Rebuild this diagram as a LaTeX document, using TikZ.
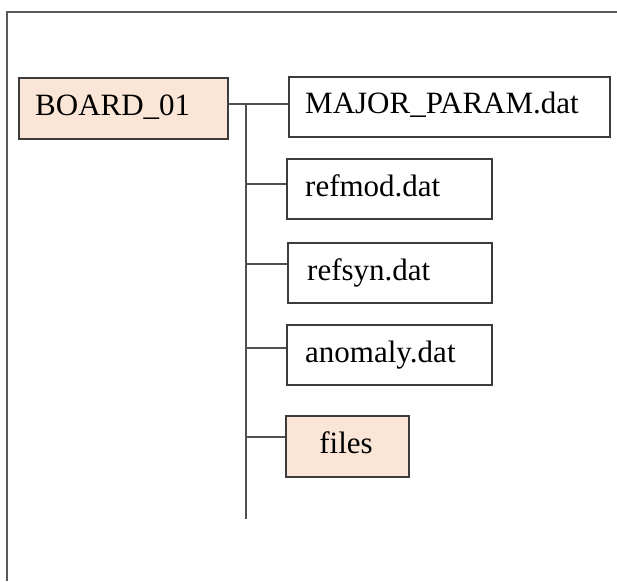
\documentclass[tikz,border=0pt]{standalone}
\usepackage{fontspec}
\setmainfont{Liberation Serif}
\definecolor{peach}{HTML}{FBE5D6}
\definecolor{boxline}{HTML}{3C3C3C}
\definecolor{conline}{HTML}{505050}
\definecolor{frameline}{HTML}{5A5A5A}
\begin{document}
\begin{tikzpicture}[x=1pt,y=-1pt,
  filebox/.style={draw=boxline, line width=1.3pt, fill=white, inner sep=0pt},
  folderbox/.style={filebox, fill=peach},
  lbl/.style={inner sep=0pt, font=\fontsize{31}{31}\selectfont, text=black},
  conn/.style={draw=conline, line width=1.3pt}]
\useasboundingbox (0,0) rectangle (617,581);
\draw[frameline, line width=1.1pt] (7,581) -- (7,12) -- (617,12);
% boxes
\node[folderbox, minimum width=209pt, minimum height=61pt] (board) at (123.5,108.5) {};
\node[filebox, minimum width=321pt, minimum height=60pt] (major) at (449.5,107) {};
\node[filebox, minimum width=205pt, minimum height=60pt] (refmod) at (389.5,189) {};
\node[filebox, minimum width=204pt, minimum height=60pt] (refsyn) at (390,273) {};
\node[filebox, minimum width=205pt, minimum height=60pt] (anomaly) at (389.5,355) {};
\node[folderbox, minimum width=123pt, minimum height=61pt] (files) at (347.5,446.5) {};
% labels
\node[lbl, anchor=base west] (tboard) at (35,115) {BOARD\_01};
\node[lbl, anchor=base west] (tmajor) at (305,113) {MAJOR\_PARAM.dat};
\node[lbl, anchor=base west] (trefmod) at (305,196) {refmod.dat};
\node[lbl, anchor=base west] (trefsyn) at (307,280) {refsyn.dat};
\node[lbl, anchor=base west] (tanomaly) at (305,362) {anomaly.dat};
\node[lbl, anchor=base] (tfiles) at (346,453) {files};
% connectors
\coordinate (top) at (246,104);
\coordinate (bot) at (246,519);
\draw[conn] (board.east |- top) -- (major.west |- top);
\draw[conn] (top) -- (bot);
\draw[conn] (top |- 0,184) -- (refmod.west |- 0,184);
\draw[conn] (top |- 0,264) -- (refsyn.west |- 0,264);
\draw[conn] (top |- 0,348) -- (anomaly.west |- 0,348);
\draw[conn] (top |- 0,437) -- (files.west |- 0,437);
\end{tikzpicture}
\end{document}
